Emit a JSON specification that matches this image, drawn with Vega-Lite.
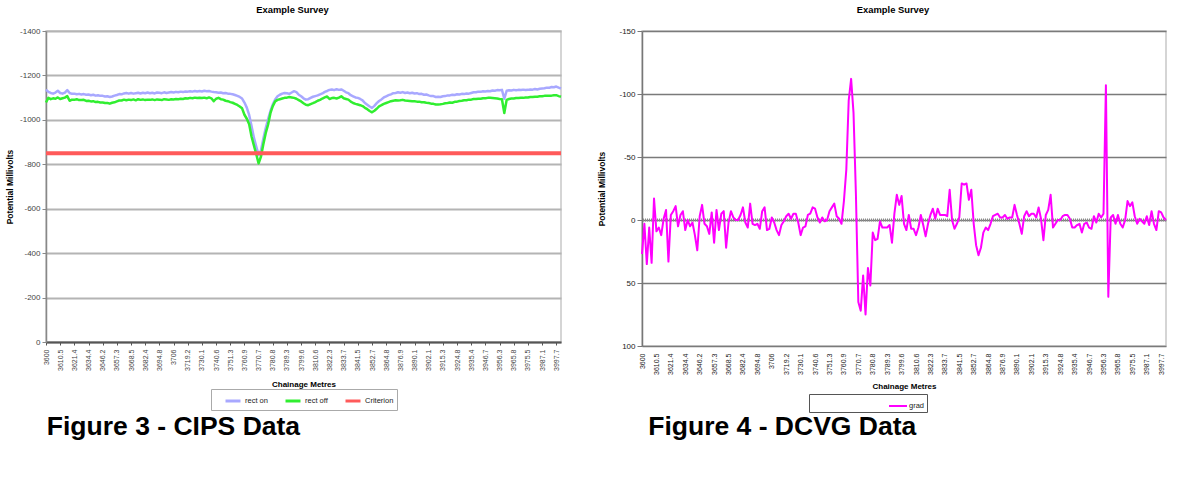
{
"$schema": "https://vega.github.io/schema/vega-lite/v6.json",
"background": "white",
"padding": {"left": 4, "top": 3, "right": 5, "bottom": 5},
"config": {
  "font": "Liberation Sans",
  "view": {"stroke": "#c8c8c8", "strokeWidth": 1.5},
  "title": {"font": "Liberation Sans"},
  "axis": {"labelFont": "Liberation Sans", "titleFont": "Liberation Sans"},
  "legend": {"labelFont": "Liberation Sans"}
},
"resolve": {"scale": {"color": "independent"}},
"spacing": 33,
"datasets": {"d": [
{"c":"3600","rect on":-1136,"rect off":-1078,"grad":27},
{"c":"3601.8","rect on":-1126,"rect off":-1099,"grad":3},
{"c":"3603.5","rect on":-1121,"rect off":-1093,"grad":35},
{"c":"3605.3","rect on":-1118,"rect off":-1097,"grad":6},
{"c":"3607","rect on":-1123,"rect off":-1095,"grad":34},
{"c":"3608.8","rect on":-1131,"rect off":-1101,"grad":-17},
{"c":"3610.5","rect on":-1121,"rect off":-1094,"grad":9},
{"c":"3612.3","rect on":-1118,"rect off":-1097,"grad":6},
{"c":"3614.1","rect on":-1123,"rect off":-1100,"grad":12},
{"c":"3616","rect on":-1134,"rect off":-1107,"grad":-1},
{"c":"3617.8","rect on":-1121,"rect off":-1086,"grad":-8},
{"c":"3619.6","rect on":-1117,"rect off":-1091,"grad":33},
{"c":"3621.4","rect on":-1118,"rect off":-1090,"grad":-4},
{"c":"3623.6","rect on":-1115,"rect off":-1093,"grad":-7},
{"c":"3625.7","rect on":-1117,"rect off":-1089,"grad":-11},
{"c":"3627.9","rect on":-1114,"rect off":-1089,"grad":5},
{"c":"3630.1","rect on":-1116,"rect off":-1090,"grad":-4},
{"c":"3632.2","rect on":-1113,"rect off":-1085,"grad":-7},
{"c":"3634.4","rect on":-1114,"rect off":-1086,"grad":8},
{"c":"3636.4","rect on":-1111,"rect off":-1083,"grad":0},
{"c":"3638.3","rect on":-1113,"rect off":-1084,"grad":5},
{"c":"3640.3","rect on":-1109,"rect off":-1080,"grad":2},
{"c":"3642.3","rect on":-1111,"rect off":-1081,"grad":12},
{"c":"3644.2","rect on":-1108,"rect off":-1078,"grad":24},
{"c":"3646.2","rect on":-1108,"rect off":-1078,"grad":-3},
{"c":"3648.1","rect on":-1105,"rect off":-1076,"grad":-12},
{"c":"3649.9","rect on":-1106,"rect off":-1076,"grad":3},
{"c":"3651.8","rect on":-1103,"rect off":-1073,"grad":5},
{"c":"3653.6","rect on":-1105,"rect off":-1077,"grad":11},
{"c":"3655.5","rect on":-1109,"rect off":-1079,"grad":-6},
{"c":"3657.3","rect on":-1112,"rect off":-1083,"grad":18},
{"c":"3659.2","rect on":-1116,"rect off":-1087,"grad":-8},
{"c":"3661","rect on":-1115,"rect off":-1087,"grad":8},
{"c":"3662.9","rect on":-1119,"rect off":-1091,"grad":-5},
{"c":"3664.8","rect on":-1121,"rect off":-1088,"grad":-7},
{"c":"3666.6","rect on":-1118,"rect off":-1091,"grad":22},
{"c":"3668.5","rect on":-1121,"rect off":-1089,"grad":2},
{"c":"3670.8","rect on":-1118,"rect off":-1092,"grad":-7},
{"c":"3673.1","rect on":-1120,"rect off":-1088,"grad":-2},
{"c":"3675.5","rect on":-1122,"rect off":-1093,"grad":0},
{"c":"3677.8","rect on":-1119,"rect off":-1090,"grad":0},
{"c":"3680.1","rect on":-1122,"rect off":-1092,"grad":-4},
{"c":"3682.4","rect on":-1120,"rect off":-1089,"grad":-10},
{"c":"3684.5","rect on":-1123,"rect off":-1091,"grad":2},
{"c":"3686.5","rect on":-1120,"rect off":-1090,"grad":6},
{"c":"3688.6","rect on":-1122,"rect off":-1092,"grad":-13},
{"c":"3690.7","rect on":-1119,"rect off":-1089,"grad":3},
{"c":"3692.7","rect on":-1123,"rect off":-1092,"grad":4},
{"c":"3694.8","rect on":-1122,"rect off":-1091,"grad":3},
{"c":"3696.7","rect on":-1120,"rect off":-1089,"grad":7},
{"c":"3698.5","rect on":-1124,"rect off":-1093,"grad":-7},
{"c":"3700.4","rect on":-1121,"rect off":-1092,"grad":-10},
{"c":"3702.3","rect on":-1123,"rect off":-1090,"grad":8},
{"c":"3704.1","rect on":-1125,"rect off":-1093,"grad":7},
{"c":"3706","rect on":-1123,"rect off":-1092,"grad":-2},
{"c":"3708.2","rect on":-1126,"rect off":-1094,"grad":2},
{"c":"3710.4","rect on":-1124,"rect off":-1093,"grad":8},
{"c":"3712.6","rect on":-1127,"rect off":-1095,"grad":12},
{"c":"3714.8","rect on":-1125,"rect off":-1094,"grad":4},
{"c":"3717","rect on":-1128,"rect off":-1097,"grad":1},
{"c":"3719.2","rect on":-1127,"rect off":-1096,"grad":-3},
{"c":"3721","rect on":-1129,"rect off":-1099,"grad":-5},
{"c":"3722.8","rect on":-1127,"rect off":-1097,"grad":-1},
{"c":"3724.7","rect on":-1130,"rect off":-1100,"grad":-5},
{"c":"3726.5","rect on":-1128,"rect off":-1098,"grad":-5},
{"c":"3728.3","rect on":-1130,"rect off":-1099,"grad":2},
{"c":"3730.1","rect on":-1128,"rect off":-1098,"grad":12},
{"c":"3731.9","rect on":-1131,"rect off":-1100,"grad":6},
{"c":"3733.6","rect on":-1129,"rect off":-1097,"grad":5},
{"c":"3735.4","rect on":-1130,"rect off":-1101,"grad":-4},
{"c":"3737.1","rect on":-1127,"rect off":-1097,"grad":-5},
{"c":"3738.9","rect on":-1125,"rect off":-1084,"grad":-10},
{"c":"3740.6","rect on":-1124,"rect off":-1095,"grad":-9},
{"c":"3742.4","rect on":-1122,"rect off":-1099,"grad":-2},
{"c":"3744.2","rect on":-1123,"rect off":-1093,"grad":2},
{"c":"3746","rect on":-1120,"rect off":-1091,"grad":-2},
{"c":"3747.7","rect on":-1121,"rect off":-1086,"grad":1},
{"c":"3749.5","rect on":-1118,"rect off":-1084,"grad":0},
{"c":"3751.3","rect on":-1117,"rect off":-1080,"grad":-7},
{"c":"3752.9","rect on":-1115,"rect off":-1077,"grad":-10},
{"c":"3754.5","rect on":-1112,"rect off":-1072,"grad":-13},
{"c":"3756.1","rect on":-1108,"rect off":-1067,"grad":-3},
{"c":"3757.7","rect on":-1103,"rect off":-1060,"grad":-1},
{"c":"3759.3","rect on":-1096,"rect off":-1052,"grad":3},
{"c":"3760.9","rect on":-1078,"rect off":-1023,"grad":-15},
{"c":"3762.5","rect on":-1055,"rect off":-1005,"grad":-40},
{"c":"3764.2","rect on":-1022,"rect off":-980,"grad":-95},
{"c":"3765.8","rect on":-972,"rect off":-925,"grad":-112},
{"c":"3767.4","rect on":-920,"rect off":-885,"grad":-85},
{"c":"3769.1","rect on":-880,"rect off":-845,"grad":-20},
{"c":"3770.7","rect on":-842,"rect off":-804,"grad":65},
{"c":"3772.4","rect on":-862,"rect off":-835,"grad":72},
{"c":"3774.1","rect on":-915,"rect off":-890,"grad":44},
{"c":"3775.8","rect on":-962,"rect off":-940,"grad":75},
{"c":"3777.4","rect on":-1002,"rect off":-978,"grad":38},
{"c":"3779.1","rect on":-1040,"rect off":-1030,"grad":52},
{"c":"3780.8","rect on":-1070,"rect off":-1062,"grad":10},
{"c":"3782.2","rect on":-1092,"rect off":-1083,"grad":16},
{"c":"3783.6","rect on":-1106,"rect off":-1090,"grad":15},
{"c":"3785.1","rect on":-1113,"rect off":-1093,"grad":1},
{"c":"3786.5","rect on":-1118,"rect off":-1096,"grad":6},
{"c":"3787.9","rect on":-1121,"rect off":-1099,"grad":6},
{"c":"3789.3","rect on":-1120,"rect off":-1100,"grad":6},
{"c":"3791","rect on":-1117,"rect off":-1103,"grad":4},
{"c":"3792.7","rect on":-1123,"rect off":-1101,"grad":18},
{"c":"3794.5","rect on":-1129,"rect off":-1099,"grad":-5},
{"c":"3796.2","rect on":-1125,"rect off":-1095,"grad":-20},
{"c":"3797.9","rect on":-1113,"rect off":-1089,"grad":-12},
{"c":"3799.6","rect on":-1106,"rect off":-1083,"grad":-19},
{"c":"3801.4","rect on":-1097,"rect off":-1075,"grad":3},
{"c":"3803.3","rect on":-1091,"rect off":-1068,"grad":8},
{"c":"3805.1","rect on":-1093,"rect off":-1066,"grad":-4},
{"c":"3806.9","rect on":-1099,"rect off":-1071,"grad":7},
{"c":"3808.8","rect on":-1104,"rect off":-1075,"grad":7},
{"c":"3810.6","rect on":-1107,"rect off":-1080,"grad":12},
{"c":"3812.6","rect on":-1110,"rect off":-1086,"grad":6},
{"c":"3814.5","rect on":-1115,"rect off":-1090,"grad":-4},
{"c":"3816.5","rect on":-1119,"rect off":-1096,"grad":4},
{"c":"3818.4","rect on":-1126,"rect off":-1101,"grad":13},
{"c":"3820.4","rect on":-1130,"rect off":-1105,"grad":3},
{"c":"3822.3","rect on":-1135,"rect off":-1094,"grad":-4},
{"c":"3824.2","rect on":-1137,"rect off":-1098,"grad":-9},
{"c":"3826.1","rect on":-1134,"rect off":-1099,"grad":-1},
{"c":"3828","rect on":-1138,"rect off":-1096,"grad":-9},
{"c":"3829.9","rect on":-1135,"rect off":-1100,"grad":-4},
{"c":"3831.8","rect on":-1137,"rect off":-1106,"grad":-4},
{"c":"3833.7","rect on":-1131,"rect off":-1097,"grad":-4},
{"c":"3835","rect on":-1124,"rect off":-1094,"grad":-3},
{"c":"3836.3","rect on":-1120,"rect off":-1091,"grad":-24},
{"c":"3837.6","rect on":-1111,"rect off":-1082,"grad":0},
{"c":"3838.9","rect on":-1106,"rect off":-1076,"grad":7},
{"c":"3840.2","rect on":-1101,"rect off":-1072,"grad":3},
{"c":"3841.5","rect on":-1099,"rect off":-1069,"grad":-2},
{"c":"3843.4","rect on":-1094,"rect off":-1066,"grad":-29},
{"c":"3845.2","rect on":-1088,"rect off":-1062,"grad":-28},
{"c":"3847.1","rect on":-1076,"rect off":-1054,"grad":-29},
{"c":"3849","rect on":-1068,"rect off":-1048,"grad":-16},
{"c":"3850.8","rect on":-1060,"rect off":-1040,"grad":-24},
{"c":"3852.7","rect on":-1054,"rect off":-1034,"grad":3},
{"c":"3854.7","rect on":-1063,"rect off":-1041,"grad":20},
{"c":"3856.7","rect on":-1075,"rect off":-1050,"grad":28},
{"c":"3858.8","rect on":-1085,"rect off":-1061,"grad":22},
{"c":"3860.8","rect on":-1092,"rect off":-1066,"grad":10},
{"c":"3862.8","rect on":-1101,"rect off":-1072,"grad":6},
{"c":"3864.8","rect on":-1106,"rect off":-1076,"grad":8},
{"c":"3866.8","rect on":-1111,"rect off":-1080,"grad":3},
{"c":"3868.8","rect on":-1115,"rect off":-1084,"grad":-3},
{"c":"3870.9","rect on":-1120,"rect off":-1086,"grad":-4},
{"c":"3872.9","rect on":-1121,"rect off":-1088,"grad":-5},
{"c":"3874.9","rect on":-1124,"rect off":-1087,"grad":-2},
{"c":"3876.9","rect on":-1122,"rect off":-1088,"grad":-2},
{"c":"3879.1","rect on":-1125,"rect off":-1090,"grad":-4},
{"c":"3881.3","rect on":-1121,"rect off":-1087,"grad":-1},
{"c":"3883.5","rect on":-1123,"rect off":-1086,"grad":-2},
{"c":"3885.7","rect on":-1120,"rect off":-1085,"grad":-2},
{"c":"3887.9","rect on":-1122,"rect off":-1084,"grad":-12},
{"c":"3890.1","rect on":-1119,"rect off":-1084,"grad":-4},
{"c":"3892.1","rect on":-1120,"rect off":-1082,"grad":3},
{"c":"3894.1","rect on":-1116,"rect off":-1082,"grad":11},
{"c":"3896.1","rect on":-1117,"rect off":-1079,"grad":-3},
{"c":"3898.1","rect on":-1113,"rect off":-1079,"grad":-7},
{"c":"3900.1","rect on":-1114,"rect off":-1077,"grad":-3},
{"c":"3902.1","rect on":-1110,"rect off":-1076,"grad":-5},
{"c":"3904.3","rect on":-1107,"rect off":-1073,"grad":-5},
{"c":"3906.5","rect on":-1107,"rect off":-1072,"grad":-2},
{"c":"3908.7","rect on":-1103,"rect off":-1069,"grad":-10},
{"c":"3910.9","rect on":-1104,"rect off":-1069,"grad":-1},
{"c":"3913.1","rect on":-1103,"rect off":-1070,"grad":16},
{"c":"3915.3","rect on":-1106,"rect off":-1072,"grad":-4},
{"c":"3916.9","rect on":-1107,"rect off":-1075,"grad":-8},
{"c":"3918.5","rect on":-1110,"rect off":-1076,"grad":-20},
{"c":"3920.1","rect on":-1110,"rect off":-1078,"grad":6},
{"c":"3921.6","rect on":-1113,"rect off":-1077,"grad":3},
{"c":"3923.2","rect on":-1112,"rect off":-1081,"grad":0},
{"c":"3924.8","rect on":-1115,"rect off":-1082,"grad":0},
{"c":"3926.6","rect on":-1114,"rect off":-1085,"grad":-3},
{"c":"3928.3","rect on":-1117,"rect off":-1086,"grad":-4},
{"c":"3930.1","rect on":-1116,"rect off":-1088,"grad":-4},
{"c":"3931.9","rect on":-1119,"rect off":-1088,"grad":-1},
{"c":"3933.6","rect on":-1118,"rect off":-1091,"grad":6},
{"c":"3935.4","rect on":-1121,"rect off":-1091,"grad":6},
{"c":"3937.3","rect on":-1124,"rect off":-1094,"grad":4},
{"c":"3939.2","rect on":-1124,"rect off":-1094,"grad":3},
{"c":"3941.1","rect on":-1127,"rect off":-1095,"grad":10},
{"c":"3942.9","rect on":-1126,"rect off":-1095,"grad":3},
{"c":"3944.8","rect on":-1129,"rect off":-1097,"grad":2},
{"c":"3946.7","rect on":-1128,"rect off":-1097,"grad":6},
{"c":"3948.3","rect on":-1130,"rect off":-1099,"grad":7},
{"c":"3949.9","rect on":-1129,"rect off":-1099,"grad":-3},
{"c":"3951.5","rect on":-1132,"rect off":-1098,"grad":2},
{"c":"3953.1","rect on":-1131,"rect off":-1097,"grad":-5},
{"c":"3954.7","rect on":-1134,"rect off":-1096,"grad":-2},
{"c":"3956.3","rect on":-1133,"rect off":-1094,"grad":-5},
{"c":"3957.9","rect on":-1135,"rect off":-1093,"grad":-107},
{"c":"3959.5","rect on":-1095,"rect off":-1031,"grad":61},
{"c":"3961.1","rect on":-1131,"rect off":-1090,"grad":-2},
{"c":"3962.6","rect on":-1133,"rect off":-1094,"grad":-4},
{"c":"3964.2","rect on":-1132,"rect off":-1096,"grad":3},
{"c":"3965.8","rect on":-1135,"rect off":-1096,"grad":-4},
{"c":"3967.4","rect on":-1133,"rect off":-1098,"grad":3},
{"c":"3969","rect on":-1135,"rect off":-1098,"grad":6},
{"c":"3970.7","rect on":-1134,"rect off":-1099,"grad":0},
{"c":"3972.3","rect on":-1136,"rect off":-1099,"grad":-15},
{"c":"3973.9","rect on":-1134,"rect off":-1101,"grad":-11},
{"c":"3975.5","rect on":-1135,"rect off":-1101,"grad":-14},
{"c":"3977.4","rect on":-1137,"rect off":-1103,"grad":-3},
{"c":"3979.4","rect on":-1136,"rect off":-1103,"grad":3},
{"c":"3981.3","rect on":-1139,"rect off":-1104,"grad":-1},
{"c":"3983.2","rect on":-1137,"rect off":-1104,"grad":1},
{"c":"3985.2","rect on":-1140,"rect off":-1106,"grad":3},
{"c":"3987.1","rect on":-1141,"rect off":-1106,"grad":-3},
{"c":"3988.9","rect on":-1142,"rect off":-1108,"grad":4},
{"c":"3990.6","rect on":-1145,"rect off":-1108,"grad":-7},
{"c":"3992.4","rect on":-1144,"rect off":-1109,"grad":3},
{"c":"3994.2","rect on":-1148,"rect off":-1109,"grad":8},
{"c":"3995.9","rect on":-1147,"rect off":-1111,"grad":-7},
{"c":"3997.7","rect on":-1150,"rect off":-1111,"grad":-6},
{"c":"3999.5","rect on":-1145,"rect off":-1107,"grad":-2},
{"c":"4001.2","rect on":-1141,"rect off":-1104,"grad":0}
]},
"hconcat": [
 {
  "title": {"text": "Figure 3 - CIPS Data", "orient": "bottom", "anchor": "start", "frame": "bounds", "fontSize": 26.5, "fontWeight": "bold", "color": "#000", "offset": 3, "dx": 42},
  "resolve": {"scale": {"color": "independent"}},
  "vconcat": [
   {
    "title": {"text": "Example Survey", "fontSize": 9.4, "fontWeight": "bold", "color": "#000", "offset": 12, "dx": -11, "anchor": "middle"},
    "width": 515,
    "height": 311,
    "data": {"name": "d"},
    "layer": [
     {
      "transform": [{"fold": ["rect on", "rect off"], "as": ["s", "v"]}],
      "mark": {"type": "line", "strokeWidth": 2.5, "strokeJoin": "round"},
      "encoding": {
       "x": {"field": "c", "type": "ordinal", "sort": null, "scale": {"type": "point", "padding": 0},
        "axis": {"title": "Chainage Metres", "values": ["3600","3610.5","3621.4","3634.4","3646.2","3657.3","3668.5","3682.4","3694.8","3706","3719.2","3730.1","3740.6","3751.3","3760.9","3770.7","3780.8","3789.3","3799.6","3810.6","3822.3","3833.7","3841.5","3852.7","3864.8","3876.9","3890.1","3902.1","3915.3","3924.8","3935.4","3946.7","3956.3","3965.8","3975.5","3987.1","3997.7"],
         "labelAngle": -90, "labelFontSize": 7, "labelColor": "#444", "labelPadding": 4, "labelOverlap": false, "tickSize": 3, "tickColor": "#555", "domainColor": "#555", "domainWidth": 2, "grid": false,
         "titleFontSize": 8, "titleFontWeight": "bold", "titleColor": "#000", "titlePadding": 10}},
       "y": {"field": "v", "type": "quantitative", "scale": {"domain": [-1400, 0], "reverse": true, "nice": false, "zero": false},
        "axis": {"title": "Potential Millivolts", "values": [-1400,-1200,-1000,-800,-600,-400,-200,0], "labelExpr": "datum.value + ''",
         "labelFontSize": 8, "labelColor": "#444", "labelPadding": 2, "tickSize": 4, "tickColor": "#888", "domainColor": "#888", "domainWidth": 1.5,
         "grid": true, "gridColor": "#b4b4b4", "gridWidth": 2, "titleFontSize": 8.5, "titleFontWeight": "bold", "titleColor": "#000", "titlePadding": 5}},
       "color": {"field": "s", "type": "nominal", "scale": {"domain": ["rect on", "rect off", "Criterion"], "range": ["#a8a8ff", "#30ee30", "#ff5a5a"]},
        "legend": {"orient": "none", "legendX": 165, "legendY": 358, "direction": "horizontal", "columns": 3, "gridAlign": "all", "title": null,
         "symbolType": "stroke", "symbolSize": 225, "symbolStrokeWidth": 3, "symbolOffset": 10, "labelFontSize": 7.5, "labelColor": "#222", "labelOffset": 3,
         "columnPadding": 0, "padding": 3, "strokeColor": "#aaa", "fillColor": "#fff"}}
      }
     },
     {
      "data": {"values": [{"s": "Criterion", "v": -850}]},
      "mark": {"type": "rule", "strokeWidth": 4},
      "encoding": {"y": {"field": "v", "type": "quantitative"}, "color": {"field": "s", "type": "nominal"}}
     }
    ]
   }
  ]
 },
 {
  "title": {"text": "Figure 4 - DCVG Data", "orient": "bottom", "anchor": "start", "frame": "bounds", "fontSize": 26.5, "fontWeight": "bold", "color": "#000", "offset": 1, "dx": 51},
  "resolve": {"scale": {"color": "independent"}},
  "vconcat": [
   {
    "title": {"text": "Example Survey", "fontSize": 9.4, "fontWeight": "bold", "color": "#000", "offset": 12, "dx": -11, "anchor": "middle"},
    "width": 524,
    "height": 315,
    "data": {"name": "d"},
    "layer": [
     {
      "data": {"values": [{"v": 0}]},
      "mark": {"type": "rule", "strokeWidth": 3, "color": "#8a8a8a", "strokeDash": [1, 1]},
      "encoding": {"y": {"field": "v", "type": "quantitative"}}
     },
     {
      "transform": [{"fold": ["grad"], "as": ["s", "v"]}],
      "mark": {"type": "line", "strokeWidth": 2, "strokeJoin": "round"},
      "encoding": {
       "x": {"field": "c", "type": "ordinal", "sort": null, "scale": {"type": "point", "padding": 0},
        "axis": {"title": "Chainage Metres", "values": ["3600","3610.5","3621.4","3634.4","3646.2","3657.3","3668.5","3682.4","3694.8","3706","3719.2","3730.1","3740.6","3751.3","3760.9","3770.7","3780.8","3789.3","3799.6","3810.6","3822.3","3833.7","3841.5","3852.7","3864.8","3876.9","3890.1","3902.1","3915.3","3924.8","3935.4","3946.7","3956.3","3965.8","3975.5","3987.1","3997.7"],
         "labelAngle": -90, "labelFontSize": 7, "labelColor": "#222", "labelPadding": 7, "labelOverlap": false, "ticks": false, "domain": false, "grid": false,
         "titleFontSize": 8, "titleFontWeight": "bold", "titleColor": "#000", "titlePadding": 8}},
       "y": {"field": "v", "type": "quantitative", "scale": {"domain": [-150, 100], "reverse": true, "nice": false, "zero": false},
        "axis": {"title": "Potential Millivolts", "values": [-150,-100,-50,0,50,100], "labelExpr": "datum.value + ''",
         "labelFontSize": 8, "labelColor": "#222", "labelPadding": 2, "tickSize": 5, "tickColor": "#777", "domainColor": "#777", "domainWidth": 1.5,
         "grid": true, "gridColor": "#7a7a7a", "gridWidth": 1.5, "titleFontSize": 8.5, "titleFontWeight": "bold", "titleColor": "#000", "titlePadding": 12}},
       "color": {"field": "s", "type": "nominal", "scale": {"domain": ["grad"], "range": ["#ff00ff"]},
        "legend": {"orient": "none", "legendX": 167, "legendY": 363, "direction": "horizontal", "title": null,
         "symbolType": "stroke", "symbolSize": 324, "symbolStrokeWidth": 2, "symbolOffset": 77, "labelFontSize": 7.5, "labelColor": "#222", "labelOffset": 1,
         "labelExpr": "datum.label + '                                     '", "labelLimit": 400,
         "padding": 2, "strokeColor": "#555", "fillColor": "#fff"}}
      }
     }
    ]
   }
  ]
 }
]
}
